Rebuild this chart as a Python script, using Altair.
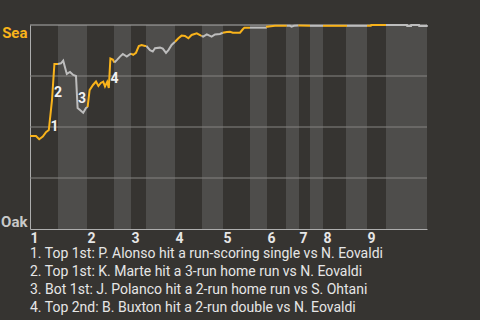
import json
import altair as alt
import pandas as pd

# ---------------- data ----------------
# half-inning start positions (game progress units), top/bottom alternate
half_starts = [0, 7, 14.25, 21, 25.25, 29, 36.25, 43, 48.25, 55, 59.25, 64,
               67.25, 70, 73.25, 79, 84.25, 89]
game_end = 99.25
inning_labels = ["1", "2", "3", "4", "5", "6", "7", "8", "9"]

# Sea win probability (%) per half inning
seg_x = [
    [0, 1.5, 2.3, 3.2, 4.0, 4.7, 5.5, 6.1, 7.0],
    [7.0, 7.75, 8.3, 9.2, 10.0, 10.8, 11.5, 11.9, 12.5, 13.3, 14.0, 14.4],
    [14.4, 14.9, 15.75, 16.5, 17.1, 17.7, 18.3, 18.75, 19.3, 19.7, 20.1, 20.7, 21.1],
    [21.1, 21.7, 22.5, 23.2, 24.2, 24.8, 25.25],
    [25.25, 25.8, 26.5, 27.2, 27.9, 28.75, 29.1],
    [29.1, 30.0, 30.7, 31.25, 32.5, 33.2, 34.0, 34.6, 35.4, 36.25],
    [36.25, 37.1, 37.9, 38.75, 39.6, 40.4, 41.7, 42.5, 42.9],
    [42.9, 43.3, 44.2, 45.4, 46.25, 47.5, 48.2],
    [48.2, 49.2, 50.0, 50.7, 52.5, 53.2, 53.6, 55.0],
    [55.0, 59.2],
    [59.2, 59.25, 61.25, 64.2],
    [64.2, 65.0, 65.4, 66.0, 67.1],
    [67.1, 70.0],
    [70.0, 73.25],
    [73.25, 79.25],
    [79.25, 84.25],
    [84.25, 85.2, 85.3, 89.0],
    [89.0, 94.25, 94.3, 95.25, 95.3, 97.25, 97.3, 99.2, 99.25],
]
seg_wp = [
    [45.6, 45.6, 44.0, 45.3, 47.5, 48.5, 63.2, 80.9, 80.9],
    [80.9, 81.2, 82.5, 76.0, 77.0, 75.5, 75.0, 59.3, 58.3, 57.0, 59.3, 59.8],
    [59.8, 68.1, 70.6, 72.3, 70.1, 71.6, 72.2, 69.9, 72.1, 69.1, 83.6, 83.1, 81.6],
    [81.6, 82.8, 84.5, 85.8, 84.5, 85.4, 86.0],
    [86.0, 85.4, 86.4, 89.7, 90.2, 89.7, 89.7],
    [89.7, 87.7, 87.0, 88.6, 88.9, 88.4, 86.3, 87.7, 90.2, 91.8],
    [91.8, 93.5, 94.8, 94.6, 93.5, 95.1, 95.9, 95.1, 94.6],
    [94.6, 94.3, 95.4, 94.3, 95.4, 95.6, 96.2],
    [96.2, 96.6, 96.7, 96.2, 96.2, 97.9, 98.7, 98.7],
    [98.7, 98.7],
    [98.7, 99.2, 99.6, 99.6],
    [99.6, 99.6, 99.2, 99.6, 99.7],
    [99.7, 99.6],
    [99.6, 99.6],
    [99.6, 99.6],
    [99.6, 99.6],
    [99.6, 99.6, 100, 100],
    [100, 100, 99.5, 99.5, 100, 100, 99.5, 99.5, 100],
]

grid_wp = [25, 50, 75]

event_ids = ["1", "2", "3", "4"]
event_x = [5.15, 6.0, 12.0, 20.1]
event_wp = [50.0, 66.9, 63.5, 73.3]

notes = [
    "1. Top 1st: P. Alonso hit a run-scoring single vs N. Eovaldi",
    "2. Top 1st: K. Marte hit a 3-run home run vs N. Eovaldi",
    "3. Bot 1st: J. Polanco hit a 2-run home run vs S. Ohtani",
    "4. Top 2nd: B. Buxton hit a 2-run double vs N. Eovaldi",
]

# ---------------- styling ----------------
BG = "#363431"
BAND = "#4e4d4b"
ORANGE = "#f9b31b"
GRAY_LINE = "#bdbdbd"
GRID = "#858482"
FRAME = "#adadad"
TEXT = "#e6e6e6"
FONT = "Roboto"

# ---------------- tables ----------------
rows = []
for s, (xs, ys) in enumerate(zip(seg_x, seg_wp)):
    for i, (xv, yv) in enumerate(zip(xs, ys)):
        rows.append({"seg": s, "i": i, "x": xv, "wp": yv,
                     "half": "top" if s % 2 == 0 else "bottom"})
line_df = pd.DataFrame(rows)

ends = half_starts[1:] + [game_end]
band_df = pd.DataFrame({
    "x0": [half_starts[k] for k in range(1, len(half_starts), 2)],
    "x1": [ends[k] for k in range(1, len(half_starts), 2)],
    "lo": 0, "hi": 100,
})
grid_df = pd.DataFrame({"wp": grid_wp})
top_df = pd.DataFrame({"wp": [100]})
event_df = pd.DataFrame({"id": event_ids, "x": event_x, "wp": event_wp})

inning_starts = half_starts[0::2]

xscale = alt.Scale(domain=[0, game_end], nice=False, zero=False)
yscale = alt.Scale(domain=[0, 100], nice=False, zero=False)

xaxis = alt.Axis(
    values=inning_starts,
    labelExpr=json.dumps(inning_labels) + "[indexof(" + json.dumps(inning_starts) + ", datum.value)]",
    title=None, ticks=False, grid=False,
    domain=True, domainColor=FRAME, domainWidth=1,
    labelAlign="left", labelBaseline="top", labelPadding=2,
    labelFont=FONT, labelFontSize=14, labelFontWeight="bold",
    labelColor=TEXT, labelFlush=False, labelOverlap=False,
)
yaxis = alt.Axis(
    values=[0, 100],
    labelExpr="datum.value > 50 ? 'Sea' : 'Oak'",
    labelColor=alt.expr(f"datum.value > 50 ? '{ORANGE}' : '#c9c9c9'"),
    title=None, ticks=False, grid=False,
    domain=True, domainColor=FRAME, domainWidth=1,
    labelFlush=True, labelPadding=3,
    labelFont=FONT, labelFontSize=15, labelFontWeight="bold",
)

bands = alt.Chart(band_df).mark_rect(color=BAND).encode(
    x=alt.X("x0:Q", scale=xscale, axis=xaxis),
    x2="x1:Q",
    y=alt.Y("lo:Q", scale=yscale, axis=yaxis),
    y2="hi:Q",
)

grid = alt.Chart(grid_df).mark_rule(color=GRID, strokeWidth=1).encode(
    y=alt.Y("wp:Q", scale=yscale, axis=yaxis),
)
top_rule = alt.Chart(top_df).mark_rule(color=FRAME, strokeWidth=1).encode(
    y=alt.Y("wp:Q", scale=yscale, axis=yaxis),
)

line = alt.Chart(line_df).mark_line(strokeWidth=2, strokeJoin="miter").encode(
    x=alt.X("x:Q", scale=xscale, axis=xaxis),
    y=alt.Y("wp:Q", scale=yscale, axis=yaxis),
    color=alt.Color("half:N", scale=alt.Scale(domain=["top", "bottom"],
                                              range=[ORANGE, GRAY_LINE]),
                    legend=None),
    detail="seg:N",
    order="i:Q",
)

labels = alt.Chart(event_df).mark_text(
    align="left", baseline="middle", font=FONT, fontSize=14,
    fontWeight="bold", color="#f2f2f2",
).encode(
    x=alt.X("x:Q", scale=xscale, axis=xaxis),
    y=alt.Y("wp:Q", scale=yscale, axis=yaxis),
    text="id:N",
)

chart = alt.layer(bands, grid, top_rule, line, labels).properties(
    width=397, height=204,
    background=BG,
    autosize=alt.AutoSizeParams(type="none"),
    padding={"left": 30, "top": 25, "right": 53, "bottom": 91},
    title=alt.TitleParams(
        text=notes, orient="bottom", anchor="start", frame="group",
        font=FONT, fontSize=14, fontWeight="normal", color=TEXT,
        lineHeight=18, offset=2,
    ),
).configure_view(stroke=None)

chart.save("out.html", embed_options={"renderer": "svg", "actions": False})
